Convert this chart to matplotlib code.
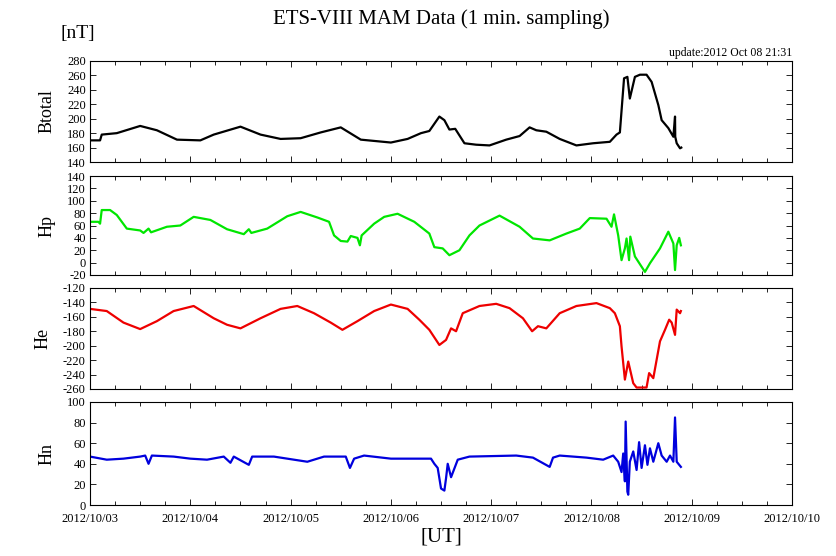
import matplotlib
matplotlib.use("Agg")
import matplotlib.pyplot as plt
import matplotlib.dates as mdates
import numpy as np

plt.rcParams['font.family'] = ['Liberation Serif', 'DejaVu Serif']
plt.rcParams['axes.unicode_minus'] = False

start = np.datetime64('2012-10-03T00:00')

# hours since 2012/10/03 00:00 UT, values in nT
bt_h = [0, 2.4, 2.8, 6.4, 12, 16, 20.8, 26.4, 29.6, 36, 40.8, 45.6, 50.4, 55.2, 60, 64.8, 72, 76,
        79.2, 81.2, 83.6, 84.8, 86, 87.4, 89.6, 92.4, 95.6, 99.6, 102.8, 105.2, 106.8, 109.2, 112.4,
        116.4, 120.4, 124.4, 126, 126.8, 127.8, 128.6, 129.2, 130.4, 131.6, 133.2, 134.4, 136, 136.8,
        138.4, 139.6, 140, 140.05, 140.4, 141.2, 141.5]
bt_v = [170, 170, 178, 180, 190, 184, 171, 170, 178, 189, 178, 172, 173, 181, 188, 171, 167, 172,
        180, 183, 203, 198, 185, 186, 166, 164, 163, 171, 176, 188, 184, 182, 172,
        163, 166, 168, 178, 181, 256, 258, 228, 258, 261, 261, 251, 219, 198,
        187, 175, 203, 175, 166, 159, 160]

hp_h = [0, 2, 2.4, 2.8, 4.8, 6.4, 8.8, 12, 12.8, 14, 14.6, 18.4, 21.6, 24.8, 28.8, 32.8, 36.8, 38,
        38.6, 42.4, 47.2, 50.4, 54.4, 57.2, 58.4, 60, 61.6, 62.4, 64, 64.6, 65, 68, 70.4, 73.6, 77.6,
        81.2, 82.4, 84.4, 86, 88.4, 90.8, 93.2, 98, 102.8, 106, 110, 114, 117.2, 119.6, 123.6, 124.8,
        125.4, 126.4, 127.2, 128, 128.4, 129, 129.3, 130.4, 132.8, 134, 136.4, 138.4, 139.6, 140,
        140.4, 141, 141.4]
hp_v = [66, 66, 63, 85, 85, 77, 55, 52, 48, 55, 49, 58, 60, 74, 69, 54, 46, 54,
        48, 55, 75, 82, 73, 66, 44, 35, 34, 43, 40, 28, 44, 63, 74, 79, 66,
        47, 25, 23, 12, 20, 44, 60, 76, 58, 39, 36, 47, 55, 72, 71, 58,
        78, 44, 4, 23, 39, 4, 42, 10, -15, -1, 23, 50, 31, -12,
        28, 40, 28]

he_h = [0, 4, 8, 12, 16, 20, 24.8, 29.6, 32.8, 36, 40.8, 45.6, 49.6, 53.6, 57.6, 60.4, 64, 68, 72,
        76, 78.8, 81.2, 83.6, 85.2, 86.4, 87.6, 89.2, 93.2, 97.2, 100.4, 103.6, 105.8, 107.2, 109.2,
        112.4, 116.4, 121.2, 124.4, 125.6, 126.8, 127.2, 128, 128.8, 130, 130.8, 133.2, 133.8, 134.8,
        136.4, 137.6, 138.6, 139.2, 140, 140.4, 141.2, 141.4]
he_v = [-149, -152, -168, -177, -166, -152, -145, -162, -171, -176, -162, -149, -145, -155, -168,
        -178, -166, -152, -143, -149, -164, -178, -199, -192, -176, -180, -155, -145, -142, -148,
        -162, -180, -173, -176, -155, -145, -141, -148, -155, -173, -201, -247, -222, -252, -258,
        -258, -238, -245, -194, -178, -164, -168, -185, -150, -155, -152]

hn_h = [0, 4, 8, 12, 13.2, 14, 14.8, 20, 24, 28, 32, 33.6, 34.4, 38, 38.8, 44, 48.8, 52, 56, 61.2,
        62.2, 63.2, 65.6, 72, 81.6, 82.4, 83.2, 84, 84.8, 85.2, 85.6, 86.4, 88, 90.8, 102, 106, 110,
        110.8, 112.4, 118.8, 122.8, 125.2, 126.4, 127.2, 127.6, 128, 128.2, 128.6, 128.8, 129.2, 130,
        130.8, 131.4, 132, 132.8, 133.4, 134, 134.8, 136, 136.8, 138, 138.8, 139.6, 140, 140.4, 141.4]
hn_v = [47, 44, 45, 47, 48, 40, 48, 47, 45, 44, 47, 41, 47, 39, 47, 47, 44, 42, 47, 47,
        36, 45, 48, 45, 45, 40, 36, 16, 14, 26, 40, 27, 44, 47, 48, 46, 37,
        46, 48, 46, 44, 48, 42, 32, 50, 23, 81, 13, 10, 42, 52,
        34, 61, 36, 58, 39, 55, 42, 60, 48, 42, 48, 42, 85, 42, 37]

panels = [
    ("Btotal", bt_h, bt_v, "black", (140, 280)),
    ("Hp", hp_h, hp_v, "#00e600", (-20, 140)),
    ("He", he_h, he_v, "#ee0000", (-260, -120)),
    ("Hn", hn_h, hn_v, "#0000dd", (0, 100)),
]
# [bottom, height] of each panel in figure fraction
rects = [(0.7086, 0.1817), (0.5054, 0.178), (0.3004, 0.1817), (0.0917, 0.1853)]


def to_time(hours):
    return start + (np.array(hours) * 60).astype(int).astype('timedelta64[m]')


fig = plt.figure(figsize=(8.36, 5.56), dpi=100)
x0 = mdates.date2num(np.datetime64('2012-10-03T00:00'))
x1 = mdates.date2num(np.datetime64('2012-10-10T00:00'))

for i, (name, h, v, col, yl) in enumerate(panels):
    b, ht = rects[i]
    ax = fig.add_axes([0.1077, b, 0.8397, ht])
    ax.plot(to_time(h), v, color=col, lw=1.6)
    ax.set_xlim(x0, x1)
    ax.set_ylim(*yl)
    ax.set_yticks(np.arange(yl[0], yl[1] + 1, 20))
    ax.xaxis.set_major_locator(mdates.DayLocator())
    ax.xaxis.set_minor_locator(mdates.HourLocator(byhour=[6, 12, 18]))
    ax.xaxis.set_major_formatter(mdates.DateFormatter('%Y/%m/%d'))
    ax.tick_params(direction='in', top=True, right=True, labelsize=9, pad=3,
                   length=4, width=0.6)
    ax.tick_params(axis='x', pad=6)
    ax.tick_params(which='minor', direction='in', top=True, length=3, width=0.6)
    for s in ax.spines.values():
        s.set_linewidth(0.8)
    if i < 3:
        ax.tick_params(labelbottom=False)
    ax.set_ylabel(name, fontsize=13, labelpad=8)

fig.text(0.5275, 0.966, "ETS-VIII MAM Data (1 min. sampling)", ha='center', va='center', fontsize=15)
fig.text(0.072, 0.94, "[nT]", ha='left', va='center', fontsize=14)
fig.text(0.947, 0.893, "update:2012 Oct 08 21:31", ha='right', va='bottom', fontsize=8.5)
fig.text(0.5275, 0.034, "[UT]", ha='center', va='center', fontsize=15)

fig.savefig("out.png", dpi=100)
